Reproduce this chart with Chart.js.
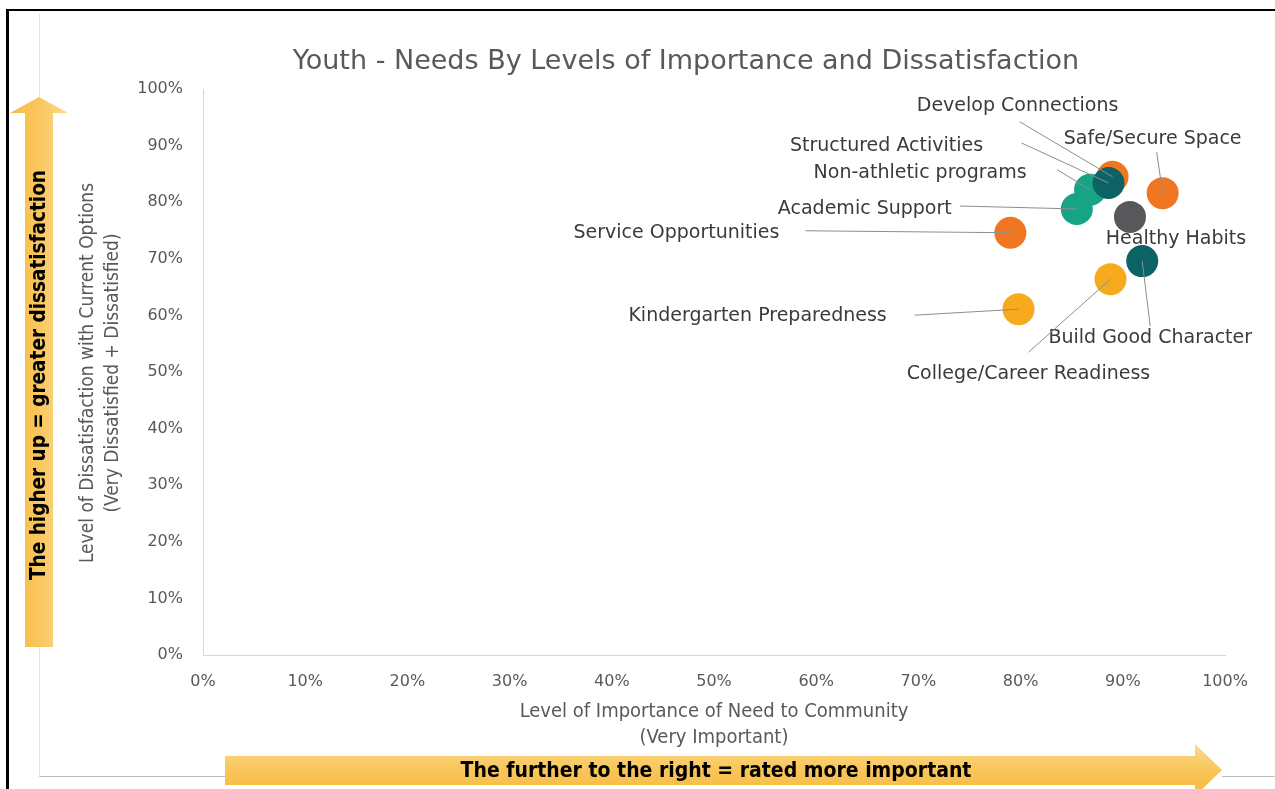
<!DOCTYPE html>
<html>
<head>
<meta charset="utf-8">
<script src="https://cdn.jsdelivr.net/npm/chart.js@4"></script>
<style>
  html, body { margin: 0; padding: 0; background: #fff; }
  #wrap { width: 1275px; height: 789px; }
</style>
</head>
<body>
<div id="wrap"><canvas id="needsChart" width="1275" height="789"></canvas></div>
<script>
// values, in percent
const needs = [
  'Academic Support', 'Non-athletic programs', 'Develop Connections', 'Structured Activities',
  'Safe/Secure Space', 'Healthy Habits', 'Service Opportunities', 'Build Good Character',
  'College/Career Readiness', 'Kindergarten Preparedness'
];
const importance = [85.5, 86.8, 89.0, 88.6, 93.9, 90.7, 79.0, 91.9, 88.8, 79.8];
const dissatisfaction = [78.8, 82.2, 84.5, 83.4, 81.6, 77.4, 74.6, 69.6, 66.4, 61.1];
const tickValues = [0, 10, 20, 30, 40, 50, 60, 70, 80, 90, 100];

const ORANGE = '#F07622', TEAL = '#17A386', DARK_TEAL = '#0B6366', GREY = '#58585A', GOLD = '#F6AA1C';
const dotColors = [TEAL, TEAL, ORANGE, DARK_TEAL, ORANGE, GREY, ORANGE, DARK_TEAL, GOLD, GOLD];

// where each label sits relative to its dot (px): text centre dx/dy, leader start lx/ly
const labelPlace = [
  { dx: -212, dy: 0, lx: -117, ly: -3 },
  { dx: -170, dy: -17, lx: -33, ly: -20 },
  { dx: -95, dy: -71, lx: -93, ly: -55 },
  { dx: -222, dy: -37, lx: -87, ly: -40 },
  { dx: -10, dy: -54, lx: -6, ly: -41 },
  { dx: 46, dy: 22, lx: null, ly: null },
  { dx: -334, dy: 0, lx: -205, ly: -2 },
  { dx: 8, dy: 77, lx: 8, ly: 65 },
  { dx: -82, dy: 95, lx: -82, ly: 73 },
  { dx: -261, dy: 7, lx: -104, ly: 6 }
];

const SANS = '"DejaVu Sans", "Noto Sans", sans-serif';
const COND = '"DejaVu Sans Condensed", "Liberation Sans Narrow", "DejaVu Sans", sans-serif';

function arrowFill(ctx, x0, y0, x1, y1) {
  const g = ctx.createLinearGradient(x0, y0, x1, y1);
  g.addColorStop(0, '#F7BB45');
  g.addColorStop(0.5, '#F9C75C');
  g.addColorStop(1, '#FCDA8E');
  return g;
}

const decor = {
  id: 'decor',
  beforeDraw(chart) {
    const ctx = chart.ctx;
    ctx.save();
    ctx.fillStyle = '#fff';
    ctx.fillRect(0, 0, chart.width, chart.height);

    // outer black frame (left + top) and faint inner frame
    ctx.fillStyle = '#000';
    ctx.fillRect(6, 9, 3, chart.height - 9);
    ctx.fillRect(6, 9, chart.width - 6, 2);
    ctx.strokeStyle = '#e4e4e4';
    ctx.lineWidth = 1;
    ctx.beginPath();
    ctx.moveTo(39.5, 14); ctx.lineTo(39.5, 776.5);
    ctx.stroke();
    ctx.strokeStyle = '#bdbdbd';
    ctx.beginPath();
    ctx.moveTo(39.5, 776.5); ctx.lineTo(226, 776.5);
    ctx.moveTo(1222, 776.5); ctx.lineTo(chart.width, 776.5);
    ctx.stroke();

    // vertical arrow
    ctx.fillStyle = arrowFill(ctx, 10, 0, 68, 0);
    ctx.beginPath();
    ctx.moveTo(39, 97);
    ctx.lineTo(68, 113);
    ctx.lineTo(53, 113);
    ctx.lineTo(53, 647);
    ctx.lineTo(25, 647);
    ctx.lineTo(25, 113);
    ctx.lineTo(10, 113);
    ctx.closePath();
    ctx.fill();

    // horizontal arrow
    ctx.fillStyle = arrowFill(ctx, 0, 790, 0, 745);
    ctx.beginPath();
    ctx.moveTo(225, 756);
    ctx.lineTo(1195, 756);
    ctx.lineTo(1195, 744);
    ctx.lineTo(1222, 770);
    ctx.lineTo(1195, 796);
    ctx.lineTo(1195, 785);
    ctx.lineTo(225, 785);
    ctx.closePath();
    ctx.fill();

    ctx.fillStyle = '#000';
    ctx.textAlign = 'center';
    ctx.textBaseline = 'middle';
    ctx.font = 'bold 21px ' + COND;
    ctx.fillText('The further to the right = rated more important', 716, 772, 532);
    ctx.save();
    ctx.translate(40, 375);
    ctx.rotate(-Math.PI / 2);
    ctx.font = 'bold 21px ' + COND;
    ctx.fillText('The higher up = greater dissatisfaction', 0, 0, 410);
    ctx.restore();

    // title
    ctx.fillStyle = '#595959';
    ctx.font = '27px ' + SANS;
    ctx.fillText('Youth - Needs By Levels of Importance and Dissatisfaction', 686, 62, 803);

    // axis titles
    ctx.font = '20px ' + COND;
    ctx.fillText('Level of Importance of Need to Community', 714, 712, 418);
    ctx.fillText('(Very Important)', 714, 738, 164);
    ctx.save();
    ctx.translate(88, 373);
    ctx.rotate(-Math.PI / 2);
    ctx.font = '19px ' + COND;
    ctx.fillText('Level of Dissatisfaction with Current Options', 0, 0, 410);
    ctx.fillText('(Very Dissatisfied + Dissatisfied)', 0, 25, 303);
    ctx.restore();
    ctx.restore();
  },
  afterDatasetsDraw(chart) {
    const ctx = chart.ctx;
    const meta = chart.getDatasetMeta(0);
    ctx.save();
    ctx.font = '19px ' + SANS;
    ctx.fillStyle = '#3a3a3a';
    ctx.textAlign = 'center';
    ctx.textBaseline = 'middle';
    ctx.strokeStyle = '#8e8e8e';
    ctx.lineWidth = 1;
    meta.data.forEach((pt, i) => {
      const p = labelPlace[i];
      if (p.lx !== null) {
        ctx.beginPath();
        ctx.moveTo(pt.x + p.lx, pt.y + p.ly);
        ctx.lineTo(pt.x, pt.y);
        ctx.stroke();
      }
      ctx.fillText(needs[i], pt.x + p.dx, pt.y + p.dy);
    });
    ctx.restore();
  }
};

const ctx = document.getElementById('needsChart').getContext('2d');
const needsChart = new Chart(ctx, {
  type: 'scatter',
  data: {
    labels: needs,
    datasets: [{
      label: 'Needs',
      data: importance.map((v, i) => ({ x: v, y: dissatisfaction[i] })),
      backgroundColor: dotColors,
      borderWidth: 0,
      pointRadius: 16,
      pointHoverRadius: 16
    }]
  },
  options: {
    responsive: false,
    devicePixelRatio: 1,
    animation: false,
    events: [],
    layout: { padding: { top: 89, right: 50, bottom: 0, left: 0 } },
    plugins: { legend: { display: false }, tooltip: { enabled: false } },
    scales: {
      x: {
        type: 'linear', min: 0, max: 100,
        afterBuildTicks: s => { s.ticks = tickValues.map(v => ({ value: v })); },
        afterFit: s => { s.height = 134; },
        grid: { display: true, drawOnChartArea: false, drawTicks: false },
        border: { color: '#d6d6d6', width: 1 },
        ticks: { padding: 17, color: '#595959', font: { family: SANS, size: 16 }, callback: v => v + '%' }
      },
      y: {
        type: 'linear', min: 0, max: 100,
        afterBuildTicks: s => { s.ticks = tickValues.map(v => ({ value: v })); },
        afterFit: s => { s.width = 203; },
        grid: { display: true, drawOnChartArea: false, drawTicks: false },
        border: { color: '#d6d6d6', width: 1 },
        ticks: { padding: 20, color: '#595959', font: { family: SANS, size: 16 }, callback: v => v + '%' }
      }
    }
  },
  plugins: [decor]
});
</script>
</body>
</html>
